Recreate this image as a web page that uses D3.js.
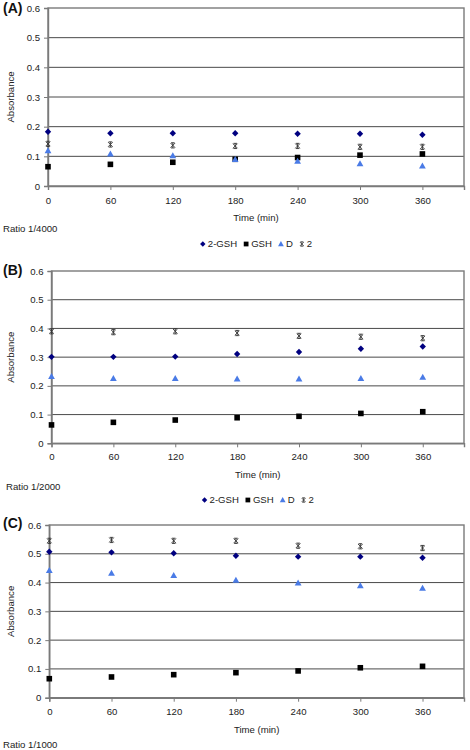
<!DOCTYPE html>
<html><head><meta charset="utf-8">
<script src="https://cdn.jsdelivr.net/npm/d3@7"></script>
<style>
html,body{margin:0;padding:0;background:#fff;}
svg{display:block;font-family:"Liberation Sans",Arial,sans-serif;}
</style></head>
<body>
<svg id="chart" width="470" height="750"></svg>
<script>
// ---- data ----
const times = [0, 60, 120, 180, 240, 300, 360];
const xTickValues = [0, 60, 120, 180, 240, 300, 360];
const yTickValues = [0, 0.1, 0.2, 0.3, 0.4, 0.5, 0.6];
const seriesNames = ["2-GSH", "GSH", "D", "2"];
const panelLabels = ["(A)", "(B)", "(C)"];
const ratioLabels = ["Ratio 1/4000", "Ratio 1/2000", "Ratio 1/1000"];

// Panel A (ratio 1/4000)
const a_2GSH = [0.183, 0.178, 0.178, 0.178, 0.176, 0.176, 0.173];
const a_GSH  = [0.065, 0.073, 0.080, 0.090, 0.096, 0.104, 0.108];
const a_D    = [0.119, 0.108, 0.102, 0.090, 0.084, 0.075, 0.068];
const a_2    = [0.142, 0.140, 0.137, 0.135, 0.135, 0.132, 0.132];
// Panel B (ratio 1/2000)
const b_2GSH = [0.301, 0.301, 0.302, 0.311, 0.318, 0.329, 0.337];
const b_GSH  = [0.064, 0.073, 0.081, 0.089, 0.094, 0.104, 0.110];
const b_D    = [0.233, 0.226, 0.226, 0.224, 0.224, 0.226, 0.230];
const b_2    = [0.390, 0.387, 0.390, 0.384, 0.374, 0.371, 0.366];
// Panel C (ratio 1/1000)
const c_2GSH = [0.507, 0.505, 0.502, 0.493, 0.490, 0.490, 0.486];
const c_GSH  = [0.066, 0.072, 0.080, 0.087, 0.093, 0.104, 0.109];
const c_D    = [0.442, 0.433, 0.425, 0.408, 0.399, 0.389, 0.381];
const c_2    = [0.545, 0.548, 0.545, 0.545, 0.528, 0.526, 0.520];

const panelData = [
  [a_2GSH, a_GSH, a_D, a_2],
  [b_2GSH, b_GSH, b_D, b_2],
  [c_2GSH, c_GSH, c_D, c_2]
];

// ---- layout ----
const layouts = [
  {left: 48,   right: 464, top: 8,   bottom: 186,   labelY: 9,   tickY: 201, timeY: 218, ratioX: 3, ratioY: 229, legendY: 244},
  {left: 51.5, right: 464, top: 271, bottom: 443.3, labelY: 271, tickY: 457, timeY: 475, ratioX: 6, ratioY: 487.5, legendY: 500},
  {left: 49.3, right: 464, top: 525, bottom: 697.7, labelY: 524, tickY: 712, timeY: 730, ratioX: 3, ratioY: 745, legendY: null}
];

const colors = ["#000080", "#000000", "#4A7BE6", "#333333"];
const FS = 9.6;

function markerPath(i) {
  const s = 3.2;
  if (i === 0) return `M0,${-s}L${s},0L0,${s}L${-s},0Z`;
  if (i === 1) return `M${-2.8},${-2.8}H2.8V2.8H${-2.8}Z`;
  if (i === 2) return `M0,${-3.4}L3.4,2.6L-3.4,2.6Z`;
  return `M-2.3,-2.3L2.3,2.3M2.3,-2.3L-2.3,2.3M-1.8,-2.6H1.8M-1.8,2.6H1.8M0,-2.6V2.6`;
}
function drawMarker(g, i) {
  const p = g.append("path").attr("d", markerPath(i));
  if (i === 3) p.attr("fill", "none").attr("stroke", colors[3]).attr("stroke-width", 0.9);
  else p.attr("fill", colors[i]);
  return p;
}

const svg = d3.select("#chart");

layouts.forEach((L, pi) => {
  const x = d3.scaleLinear().domain([0, 400]).range([L.left, L.right]);
  const y = d3.scaleLinear().domain([0, 0.6]).range([L.bottom, L.top]);
  const g = svg.append("g");

  // gridlines
  g.append("g").selectAll("line").data(yTickValues.slice(1, -1)).join("line")
    .attr("x1", L.left).attr("x2", L.right)
    .attr("y1", d => y(d)).attr("y2", d => y(d))
    .attr("stroke", "#4a4a4a").attr("stroke-width", 1);

  // plot border
  g.append("rect").attr("x", L.left).attr("y", L.top)
    .attr("width", L.right - L.left).attr("height", L.bottom - L.top)
    .attr("fill", "none").attr("stroke", "#7a7a7a").attr("stroke-width", 1.4);

  // y axis
  const yAxis = d3.axisLeft(y).tickValues(yTickValues).tickFormat(d => d === 0 ? "0" : d3.format(".1f")(d))
    .tickSize(4).tickPadding(4);
  const ya = g.append("g").attr("transform", `translate(${L.left},0)`).call(yAxis);
  ya.select(".domain").attr("stroke", "#7a7a7a").attr("stroke-width", 1.4);
  ya.selectAll(".tick line").attr("stroke", "#7a7a7a");
  ya.selectAll("text").attr("font-size", FS).attr("font-family", "Liberation Sans, Arial, sans-serif").attr("fill", "#222");

  // x axis
  const xAxis = d3.axisBottom(x).tickValues(xTickValues).tickSize(4).tickPadding(5);
  const xa = g.append("g").attr("transform", `translate(0,${L.bottom})`).call(xAxis);
  xa.select(".domain").attr("stroke", "#7a7a7a").attr("stroke-width", 1.4);
  xa.selectAll(".tick line").attr("stroke", "#7a7a7a");
  xa.selectAll("text").attr("font-size", FS).attr("font-family", "Liberation Sans, Arial, sans-serif").attr("fill", "#222")
    .attr("y", null).attr("dy", null)
    .attr("transform", `translate(0,${L.tickY - L.bottom})`).attr("dominant-baseline", "middle");

  // axis titles
  g.append("text").attr("x", (L.left + L.right) / 2).attr("y", L.timeY)
    .attr("text-anchor", "middle").attr("dominant-baseline", "middle")
    .attr("font-size", FS).attr("fill", "#222").text("Time (min)");
  g.append("text").attr("transform", `translate(11,${(L.top + L.bottom) / 2}) rotate(-90)`)
    .attr("text-anchor", "middle").attr("dominant-baseline", "middle")
    .attr("font-size", FS).attr("fill", "#222").text("Absorbance");

  // panel label
  g.append("text").attr("x", 3).attr("y", L.labelY).attr("dominant-baseline", "middle")
    .attr("font-size", 14).attr("font-weight", "bold").attr("fill", "#111").text(panelLabels[pi]);

  // ratio label
  g.append("text").attr("x", L.ratioX).attr("y", L.ratioY).attr("dominant-baseline", "middle")
    .attr("font-size", FS).attr("fill", "#222").text(ratioLabels[pi]);

  // series
  panelData[pi].forEach((vals, si) => {
    const sg = g.append("g");
    vals.forEach((v, k) => {
      const mg = sg.append("g").attr("transform", `translate(${x(times[k])},${y(v)})`);
      drawMarker(mg, si);
    });
  });

  // legend
  if (L.legendY !== null) {
    const lg = g.append("g");
    let cx = 0;
    seriesNames.forEach((name, si) => {
      const item = lg.append("g").attr("transform", `translate(${cx},0)`);
      const m = item.append("g").attr("transform", `translate(3,0) scale(0.85)`);
      drawMarker(m, si);
      const t = item.append("text").attr("x", 8).attr("y", 0).attr("dominant-baseline", "middle")
        .attr("font-size", FS).attr("fill", "#222").text(name);
      cx += 8 + t.node().getComputedTextLength() + 6;
    });
    const w = cx - 6;
    lg.attr("transform", `translate(${(L.left + L.right) / 2 - w / 2},${L.legendY})`);
  }
});
</script>
</body></html>
